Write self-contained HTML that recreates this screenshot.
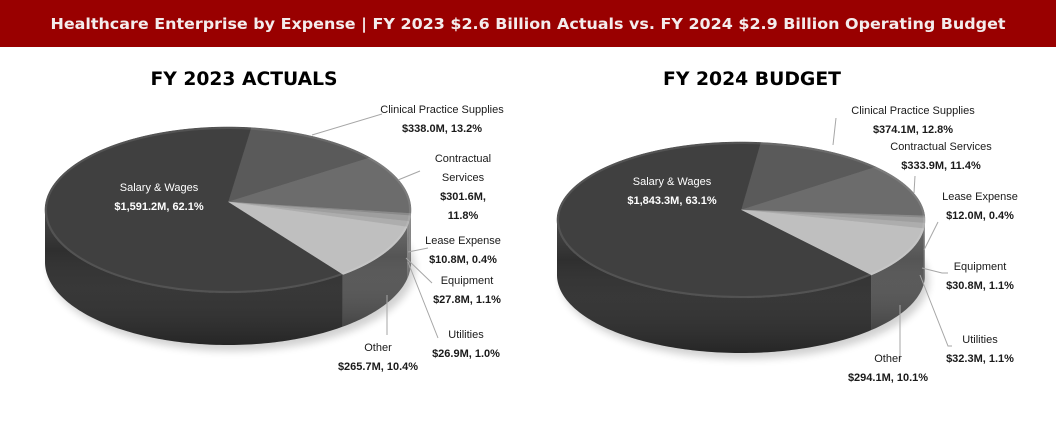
<!DOCTYPE html>
<html><head><meta charset="utf-8">
<style>
html,body{margin:0;padding:0;background:#fff;}
body{width:1056px;height:427px;overflow:hidden;position:relative;font-family:"Liberation Sans",sans-serif;}
</style></head>
<body>
<svg id="chart" width="1056" height="427" viewBox="0 0 1056 427" xmlns="http://www.w3.org/2000/svg">
<defs>
<linearGradient id="sideV" x1="0" y1="0" x2="0" y2="1">
<stop offset="0" stop-color="#fff" stop-opacity="0.12"/>
<stop offset="0.3" stop-color="#fff" stop-opacity="0"/>
<stop offset="1" stop-color="#000" stop-opacity="0.2"/>
</linearGradient>
<filter id="shadow" x="-10%" y="-10%" width="120%" height="130%"><feGaussianBlur stdDeviation="4"/></filter>
</defs>
<rect x="0" y="0" width="1056" height="47" fill="#990000"/>
<text x="528" y="29" text-anchor="middle" fill="#f4ecec" font-family="DejaVu Sans, sans-serif" font-weight="bold" font-size="15" textLength="955" lengthAdjust="spacingAndGlyphs">Healthcare Enterprise by Expense | FY 2023 $2.6 Billion  Actuals vs. FY 2024 $2.9 Billion  Operating Budget</text>
<text x="244" y="85" text-anchor="middle" fill="#000" font-family="DejaVu Sans, sans-serif" font-weight="bold" font-size="19" textLength="187" lengthAdjust="spacingAndGlyphs">FY 2023 ACTUALS</text>
<text x="752" y="85" text-anchor="middle" fill="#000" font-family="DejaVu Sans, sans-serif" font-weight="bold" font-size="19" textLength="178" lengthAdjust="spacingAndGlyphs">FY 2024 BUDGET</text>
<g id="pies"></g>
</svg>
<script>
const categories = ["Clinical Practice Supplies","Contractual Services","Lease Expense","Equipment","Utilities","Other","Salary & Wages"];
const valuesFY2023 = [338.0, 301.6, 10.8, 27.8, 26.9, 265.7, 1591.2];
const valuesFY2024 = [374.1, 333.9, 12.0, 30.8, 32.3, 294.1, 1843.3];
const labelsFY2023 = [["Clinical Practice Supplies","$338.0M, 13.2%"],["Contractual","Services","$301.6M,","11.8%"],["Lease Expense","$10.8M, 0.4%"],["Equipment","$27.8M, 1.1%"],["Utilities","$26.9M, 1.0%"],["Other","$265.7M, 10.4%"],["Salary & Wages","$1,591.2M, 62.1%"]];
const labelsFY2024 = [["Clinical Practice Supplies","$374.1M, 12.8%"],["Contractual Services","$333.9M, 11.4%"],["Lease Expense","$12.0M, 0.4%"],["Equipment","$30.8M, 1.1%"],["Utilities","$32.3M, 1.1%"],["Other","$294.1M, 10.1%"],["Salary & Wages","$1,843.3M, 63.1%"]];

const topColors = ["#5a5a5a","#6c6c6c","#8a8a8a","#9e9e9e","#adadad","#bfbfbf","#404040"];
const sideColors = ["#4a4a4a","#555","#6a6a6a","#777","#808080","#555555","#2f2f2f"];
const NS = "http://www.w3.org/2000/svg";
const root = document.getElementById('pies');

function mk(tag, attrs, parent){const e=document.createElementNS(NS,tag);for(const k in attrs)e.setAttribute(k,attrs[k]);(parent||root).appendChild(e);return e;}

function drawPie(cfg, values, labels){
  const g = mk('g',{});
  
  
  const {cx,cy,rx,ry,depth,start,apexDy}=cfg;
  const ax=cx, ay=cy+apexDy;
  const total = values.reduce((a,b)=>a+b,0);
  // angle measured in apex-centred space: find point on ellipse along ray from apex
  const pt=(a,dy)=>{
    const r=a*Math.PI/180, dx=Math.sin(r), dyy=-Math.cos(r);
    // solve ((ax-cx)+t dx)^2/rx^2 + ((ay-cy)+t dyy*ry/rx... ) use ray scaled by ry/rx
    const ux=dx*rx, uy=dyy*ry, ox=ax-cx, oy=ay-cy;
    const A=ux*ux/(rx*rx)+uy*uy/(ry*ry), B=2*(ox*ux/(rx*rx)+oy*uy/(ry*ry)), C=ox*ox/(rx*rx)+oy*oy/(ry*ry)-1;
    const t=(-B+Math.sqrt(B*B-4*A*C))/(2*A);
    return [ax+t*ux, ay+t*uy+(dy||0)];
  };
  const sh = mk('ellipse',{cx:cx+4,cy:cy+depth+6,rx:rx,ry:ry,fill:'#000',opacity:0.18,filter:'url(#shadow)'},g);
  
  
  const angles=[]; let a=start;
  values.forEach(v=>{const s=a; a+=v/total*360; angles.push([s,a]);});
  // front half of the ellipse in apex-angle terms: where point is below ellipse centre line
  const isFront=ang=>{const p=pt(ang);return p[1]>=cy-0.01;};
  angles.forEach(([s,e],i)=>{
    // sample to find front subranges
    const steps=Math.max(2,Math.ceil((e-s)/1));
    let seg=null; const segs=[];
    for(let k=0;k<=steps;k++){const an=s+(e-s)*k/steps; if(isFront(an)){if(!seg)seg=[an,an]; else seg[1]=an;} else if(seg){segs.push(seg);seg=null;}}
    if(seg)segs.push(seg);
    segs.forEach(([a0,a1])=>{
      if(a1<=a0) return;
      const n=Math.max(2,Math.ceil(a1-a0));
      const top=[],bot=[];
      for(let k=0;k<=n;k++){const an=a0+(a1-a0)*k/n; top.push(pt(an)); bot.push(pt(an,depth));}
      bot.reverse();
      const d='M'+top.map(p=>p.join(',')).join(' L')+' L'+bot.map(p=>p.join(',')).join(' L')+' Z';
      const p=mk('path',{d:d,fill:sideColors[i]},g);
      
      
      const o=mk('path',{d:d,fill:'url(#sideV)'},g);
      
      
    });
  });
  angles.forEach(([s,e],i)=>{
    const n=Math.max(2,Math.ceil(e-s)); const pts=[];
    for(let k=0;k<=n;k++) pts.push(pt(s+(e-s)*k/n));
    const d=`M${ax},${ay} L`+pts.map(p=>p.join(',')).join(' L')+' Z';
    const p=mk('path',{d:d,fill:topColors[i],stroke:topColors[i],'stroke-width':0.5},g);
    
    
  });
  const rim=mk('ellipse',{cx:cx,cy:cy,rx:rx-1,ry:ry-1,fill:'none',stroke:'#fff','stroke-opacity':0.1,'stroke-width':2},g);
  
  
  cfg.labels.forEach((L,i)=>{
    if(L.line){
      const ln=mk('polyline',{points:L.line.map(p=>p.join(',')).join(' '),fill:'none',stroke:'#a6a6a6','stroke-width':1},g);
      
      
    }
    const t=mk('text',{x:L.x,y:L.y,'text-anchor':'middle','font-size':11,fill:i===6?'#fff':'#1a1a1a'},g);
    
    
    labels[i].forEach((line,j)=>{
      const ts=mk('tspan',{x:L.x,dy:j===0?0:19},t);
      ts.setAttribute('font-weight', line.startsWith('$')||/^\d/.test(line)?'bold':'normal');
      ts.textContent=line;
    });
  });
}

drawPie({name:'fy2023-pie',cx:228,cy:210,rx:183,ry:83,depth:52,apexDy:-8,start:8,labels:[
  {x:442,y:113,line:[[312,135],[382,114]]},
  {x:463,y:162,line:[[398,180],[420,171]]},
  {x:463,y:244,line:[[408,252],[428,248]]},
  {x:467,y:284,line:[[406,258],[432,283]]},
  {x:466,y:338,line:[[408,262],[438,338]]},
  {x:378,y:351,line:[[387,295],[387,335]]},
  {x:159,y:191}
]}, valuesFY2023, labelsFY2023);

drawPie({name:'fy2024-pie',cx:741,cy:220,rx:184,ry:78,depth:55,apexDy:-10,start:7,labels:[
  {x:913,y:114,line:[[833,145],[836,118]]},
  {x:941,y:150,line:[[914,193],[915,176]]},
  {x:980,y:200,line:[[924,250],[938,222]]},
  {x:980,y:270,line:[[922,268],[942,273],[948,273]]},
  {x:980,y:343,line:[[920,275],[948,346],[952,346]]},
  {x:888,y:362,line:[[900,305],[900,360]]},
  {x:672,y:185}
]}, valuesFY2024, labelsFY2024);
</script>
</body></html>
